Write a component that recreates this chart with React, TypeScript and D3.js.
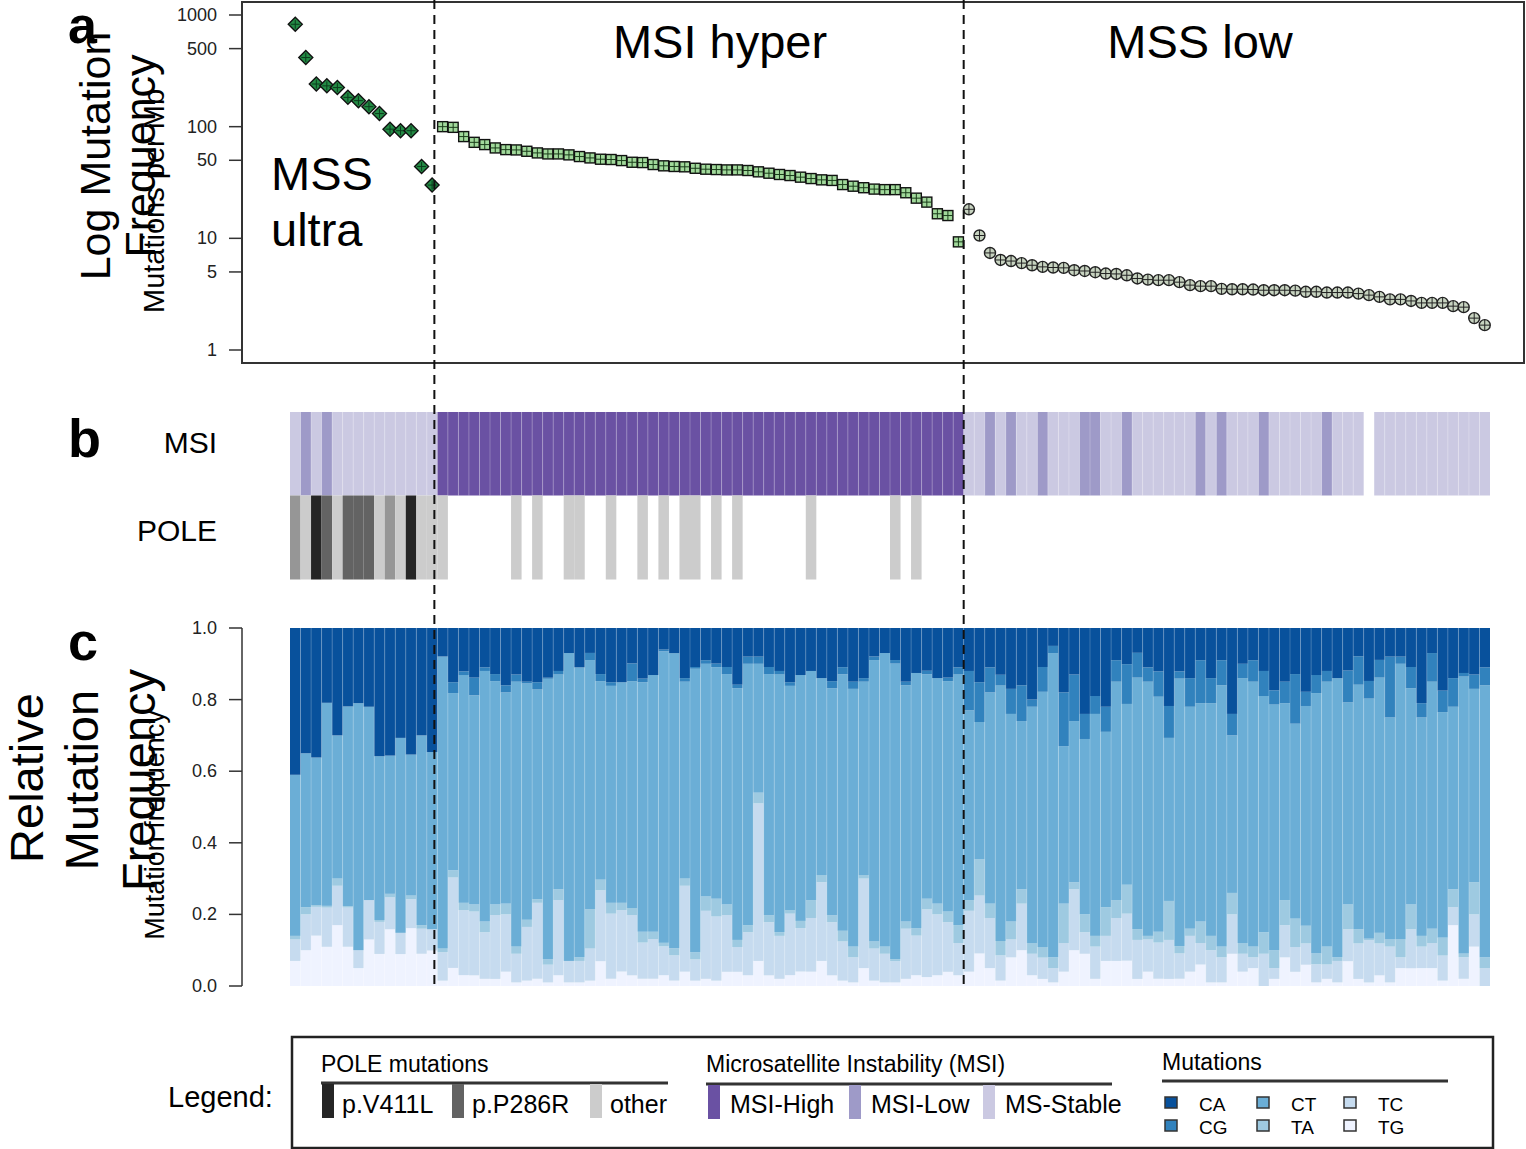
import React from "react";
import * as d3 from "d3";

// panel a: mutations per Mb, sorted within each group
const ultraFreq = [826, 416, 241, 232, 224, 183, 171, 151, 131, 95, 92, 92, 44, 30];
const hyperFreq = [
  100, 98.6, 81.5, 72.4, 69.1, 64.5, 62.3, 61.9, 60.2, 58.2, 57.0, 57.0, 55.9, 54.0, 52.5, 51.1, 50.8,
  49.7, 48.0, 47.7, 45.8, 44.6, 44.0, 43.7, 42.4, 41.6, 41.3, 41.0, 41.0, 40.5, 39.4, 38.3, 37.3, 36.5,
  35.3, 34.3, 33.4, 33.0, 30.3, 29.3, 28.4, 27.6, 27.3, 27.3, 25.6, 22.9, 21.1, 16.6, 16.0, 9.3,
];
const lowFreq = [
  18.2, 10.6, 7.4, 6.4, 6.26, 6.0, 5.74, 5.55, 5.48, 5.44, 5.18, 5.1, 4.97, 4.84, 4.8, 4.67, 4.37,
  4.27, 4.22, 4.22, 4.05, 3.81, 3.73, 3.73, 3.53, 3.5, 3.5, 3.48, 3.43, 3.43, 3.43, 3.4, 3.32, 3.32,
  3.27, 3.27, 3.27, 3.2, 3.1, 2.99, 2.84, 2.84, 2.75, 2.64, 2.64, 2.64, 2.47, 2.42, 1.93, 1.67,
];
const yTicks = [1, 5, 10, 50, 100, 500, 1000];

// panel b: H = MSI-High, L = MSI-Low, S = MS-Stable, N = missing
const msiStatus = (
  "SLSLSSSSSSSSSS" +
  "HHHHHHHHHHHHHHHHHHHHHHHHHHHHHHHHHHHHHHHHHHHHHHHHHH" +
  "SSLSLSSLSSSLLSSLSSSSSSLSLSSSLSSSSSLSSSNSSSSSSSSSSS"
).split("");
// V = p.V411L, P = p.P286R, o = other, m = mixed grey, - = none
const poleStatus = (
  "moVPoPPPomoVoo" +
  "o------o-o--oo--o--o-o-oo-o-o------o-------o-o----" +
  "--------------------------------------------------"
).split("");

// panel c: relative mutation frequency (%)
const CA = [
  41, 35, 36, 21, 30, 22, 21, 22, 36, 36, 31, 35, 30, 35,
  8, 15, 12, 14, 11, 13, 16, 13, 15, 15, 14, 12, 7, 11, 7, 13, 15, 15, 10, 14, 13, 6, 7, 14, 11, 9, 10,
  11, 16, 8, 8, 11, 12, 15, 13, 12, 14, 15, 11, 15, 14, 8, 7, 9, 15, 12.5, 12, 14, 14, 11,
  12, 15, 11, 13, 17, 16, 20, 11, 5, 18, 13, 24, 19, 22, 9, 10, 7, 11, 12, 22, 12, 14, 9, 14, 9, 24,
  10, 9, 12, 17.5, 15, 13, 18, 13, 12, 14, 12, 8, 15, 9, 8, 8, 11, 21, 7, 17.5, 14, 12.5, 13, 11,
];
const CG = [
  0, 0, 0, 0, 0, 0, 0, 0, 0, 0, 0, 0, 0, 0,
  0, 3, 1, 5, 1, 2, 2, 2, 0.5, 2, 0.3, 1, 0, 0, 2, 2, 1, 0, 5, 1, 0, 0.5, 0, 1, 0.5, 1, 1, 2, 1, 2, 2,
  2, 1, 1, 0, 0, 0, 2, 2, 2, 1, 1, 0, 1, 1, 0, 1, 0, 1, 2,
  11, 11, 7, 3, 7, 10, 2, 7, 2, 15, 13, 7, 5, 7, 6, 11, 7, 4, 7, 9, 2, 8, 12, 7, 7, 6, 4, 6, 7, 4, 6,
  14, 4, 5, 3, 0, 9, 8, 5, 5, 17, 2, 6, 4, 8, 6, 8, 1, 4, 5,
];
const CT = [
  45, 43, 41, 57, 40, 56, 69, 54, 46, 39, 55, 39, 53, 50,
  82, 49, 63, 59, 70, 63, 59, 74, 66, 58, 79, 60, 86, 81, 70, 56, 60, 61, 64, 69, 71, 81, 82, 55, 80,
  65, 65, 65, 71, 73, 36, 68, 72, 62, 68, 64, 55, 64, 72, 72, 54, 79, 82, 83, 66, 71, 63, 63, 65, 70,
  53, 38, 59, 71, 58, 47, 66, 72, 85, 44, 45, 49, 62, 49, 61, 50, 71, 71, 65, 46, 74, 62, 61, 65, 73,
  44, 74, 74, 66, 69, 55, 55, 62, 72, 74, 78, 57, 69, 68, 72, 62, 77, 61, 61, 69, 63, 51, 77, 54, 76,
];
const TA = [
  1, 2, 0.5, 0.5, 2, 0.4, 0, 0, 0.5, 1, 0, 1, 1, 0,
  1, 2, 2, 2, 3, 3, 3, 2, 2, 1, 1.5, 3, 0, 1, 11, 3, 3, 2, 2, 3, 2, 1, 2, 2, 2, 4, 5, 3, 2, 2, 3, 2, 1,
  1, 2, 5, 2, 2, 3, 3, 1, 2, 2, 0.5, 2, 2, 3, 3, 3, 5,
  3, 10, 4, 4, 5, 4, 3, 3, 3, 11, 2, 5, 3, 8, 5, 8, 3, 1, 3, 11, 2, 2, 6, 4, 3, 6, 3, 3, 6, 5, 7, 8, 5,
  3, 5, 1, 7, 4, 0.4, 3, 2, 5, 7, 3, 4, 5, 5, 1, 9, 3,
];
const TC = [
  6, 10, 8, 11, 11, 11, 5, 11, 9, 9, 6, 8, 7, 6,
  8, 25, 18, 18, 13, 18, 16, 8, 15, 21, 5, 21, 6, 6, 9, 20, 18, 17, 17, 10, 11, 8, 7, 24, 6, 19, 18,
  16, 7, 12, 44, 15, 12, 17, 12, 15, 22, 15, 11, 7, 25, 9, 8, 6, 14, 11, 19, 17, 14, 9,
  17, 16, 14, 7, 5, 13, 6, 6, 4, 8, 17, 6, 9, 7, 12, 13, 11, 9, 10, 11, 7, 10, 6, 9, 7, 11, 5, 3, 9,
  3, 9, 7, 6, 5, 4, 6, 9, 10, 12, 9, 10, 3, 11, 6, 7, 7, 5, 6, 9, 5,
];
const TG = [
  7, 10, 14, 11, 17, 11, 5, 13, 9, 16, 9, 16, 9, 10,
  1.5, 5, 3, 3, 2, 2, 4, 1, 1.5, 2, 1, 3, 1, 1, 1.5, 7, 2, 4, 3, 2, 2, 3, 1.5, 4, 1.5, 2, 1.5, 4, 4,
  3, 7, 3, 2, 3, 4, 4, 7, 3, 1.5, 1, 5, 1.5, 1, 1, 2, 3, 2.5, 3, 4, 3,
  4, 9, 5, 1.5, 8, 10, 3, 2, 1, 4, 10, 9, 2, 7, 7, 7, 2, 4, 2, 2, 2, 4, 6, 1, 1, 9, 4, 5, 0, 2, 8, 4,
  6, 1, 2, 1, 7, 2, 1, 3, 1, 5, 5, 5, 5, 1.5, 17, 2, 11, 0,
];
const relTicks = [0, 0.2, 0.4, 0.6, 0.8, 1.0];

const mutKeys = ["CA", "CG", "CT", "TA", "TC", "TG"];
const mutValues: Record<string, number[]> = { CA, CG, CT, TA, TC, TG };
const mutColors: Record<string, string> = {
  CA: "#08519c", CG: "#3182bd", CT: "#6baed6", TA: "#9ecae1", TC: "#c6dbef", TG: "#eff3ff",
};
const msiColors: Record<string, string> = { H: "#6a51a3", L: "#9e9ac8", S: "#cbc9e2" };
const poleColors: Record<string, string> = { V: "#252525", P: "#636363", o: "#cccccc", m: "#969696" };

const poleLegend = [
  { key: "V", label: "p.V411L" },
  { key: "P", label: "p.P286R" },
  { key: "o", label: "other" },
];
const msiLegend = [
  { key: "H", label: "MSI-High" },
  { key: "L", label: "MSI-Low" },
  { key: "S", label: "MS-Stable" },
];

const FONT = "'Liberation Sans', Arial, Helvetica, sans-serif";

const freq = [...ultraFreq, ...hyperFreq, ...lowFreq];
const group = freq.map((_, i) =>
  i < ultraFreq.length ? "ultra" : i < ultraFreq.length + hyperFreq.length ? "hyper" : "low"
);
const N = freq.length;

const x = d3.scaleBand<number>().domain(d3.range(N)).range([290, 1490]);
const bw = x.bandwidth();
const yLog = d3.scaleLog().domain([1, 1000]).range([350, 15]);
const yRel = d3.scaleLinear().domain([0, 1]).range([986, 628]);

const rows = d3.range(N).map((i) => {
  const r: Record<string, number> = {};
  mutKeys.forEach((k) => (r[k] = mutValues[k][i]));
  return r;
});
const stacked = d3
  .stack<Record<string, number>>()
  .keys([...mutKeys].reverse())
  .offset(d3.stackOffsetExpand)(rows);

const cuts = [ultraFreq.length, ultraFreq.length + hyperFreq.length];
const cutNudge = [-3, 0];

function Marker({ g, cx, cy }: { g: string; cx: number; cy: number }) {
  if (g === "ultra") {
    const r = 7;
    return (
      <g transform={`translate(${cx},${cy})`}>
        <path d={`M0,${-r}L${r},0L0,${r}L${-r},0Z`} fill="#238b45" stroke="#111" strokeWidth={1.4} />
        <path d="M-4.5,0H4.5M0,-4.5V4.5" stroke="#0b3d1c" strokeWidth={1} />
      </g>
    );
  }
  if (g === "hyper") {
    const r = 5;
    return (
      <g transform={`translate(${cx},${cy})`}>
        <rect x={-r} y={-r} width={2 * r} height={2 * r} fill="#a1d99b" stroke="#111" strokeWidth={1.4} />
        <path d={`M${-r},0H${r}M0,${-r}V${r}`} stroke="#1a3d1a" strokeWidth={1} />
      </g>
    );
  }
  const r = 5.5;
  return (
    <g transform={`translate(${cx},${cy})`}>
      <circle r={r} fill="#c7d3c0" stroke="#222" strokeWidth={1.4} />
      <path d={`M${-r},0H${r}M0,${-r}V${r}`} stroke="#222" strokeWidth={1} />
    </g>
  );
}

export default function App() {
  const fmt = d3.format(".1f");
  return (
    <div style={{ position: "absolute", left: 0, top: 0 }}>
      <svg width={1526} height={1149} style={{ display: "block", fontFamily: FONT }}>
        <rect width={1526} height={1149} fill="#fff" />

        {/* panel a */}
        <rect x={242} y={2} width={1282} height={361} fill="none" stroke="#333" strokeWidth={2} />
        {yTicks.map((t) => (
          <g key={t}>
            <line x1={229} x2={242} y1={yLog(t)} y2={yLog(t)} stroke="#333" strokeWidth={1.5} />
            <text x={217} y={yLog(t) + 6} fontSize={18} textAnchor="end" fill="#222">
              {t}
            </text>
          </g>
        ))}
        {freq.map((v, i) => (
          <Marker key={i} g={group[i]} cx={x(i)! + bw / 2} cy={yLog(v)} />
        ))}
        <text x={720} y={58} fontSize={47} textAnchor="middle">MSI hyper</text>
        <text x={1200} y={58} fontSize={47} textAnchor="middle">MSS low</text>
        <text x={271} y={190} fontSize={47}>MSS</text>
        <text x={271} y={246} fontSize={47}>ultra</text>
        <text transform="translate(110,156) rotate(-90)" fontSize={43} textAnchor="middle">Log Mutation</text>
        <text transform="translate(155,156) rotate(-90)" fontSize={43} textAnchor="middle">Frequency</text>
        <text transform="translate(164,201) rotate(-90)" fontSize={29} textAnchor="middle">Mutations per Mb</text>
        <text x={68} y={43} fontSize={52} fontWeight="bold">a</text>

        {/* panel b */}
        {msiStatus.map((s, i) =>
          msiColors[s] ? (
            <rect key={"m" + i} x={x(i)} y={412} width={bw} height={83.5} fill={msiColors[s]} />
          ) : null
        )}
        {poleStatus.map((s, i) =>
          poleColors[s] ? (
            <rect key={"p" + i} x={x(i)} y={495.5} width={bw} height={84} fill={poleColors[s]} />
          ) : null
        )}
        {d3.range(1, N).map((i) =>
          msiColors[msiStatus[i]] && msiColors[msiStatus[i - 1]] ? (
            <line key={"ms" + i} x1={x(i)} x2={x(i)} y1={412} y2={495.5} stroke="#fff" strokeOpacity={0.3} strokeWidth={0.8} />
          ) : null
        )}
        <text x={217} y={453} fontSize={30} textAnchor="end">MSI</text>
        <text x={217} y={541} fontSize={30} textAnchor="end">POLE</text>
        <text x={68} y={457} fontSize={54} fontWeight="bold">b</text>

        {/* panel c */}
        {stacked.map((s) => (
          <g key={s.key} fill={mutColors[s.key]}>
            {s.map((d, i) => (
              <rect key={i} x={x(i)} y={yRel(d[1])} width={bw} height={yRel(d[0]) - yRel(d[1])} />
            ))}
          </g>
        ))}
        {d3.range(1, N).map((i) => (
          <line key={"cs" + i} x1={x(i)} x2={x(i)} y1={628} y2={986} stroke="#fff" strokeOpacity={0.25} strokeWidth={0.8} />
        ))}
        <line x1={242} x2={242} y1={yRel(0)} y2={yRel(1)} stroke="#333" strokeWidth={1.5} />
        {relTicks.map((t) => (
          <g key={t}>
            <line x1={229} x2={242} y1={yRel(t)} y2={yRel(t)} stroke="#333" strokeWidth={1.5} />
            <text x={217} y={yRel(t) + 6} fontSize={18} textAnchor="end" fill="#222">
              {fmt(t)}
            </text>
          </g>
        ))}
        <text transform="translate(43,778) rotate(-90)" fontSize={47} textAnchor="middle">Relative</text>
        <text transform="translate(98,780) rotate(-90)" fontSize={47} textAnchor="middle">Mutation</text>
        <text transform="translate(155,780) rotate(-90)" fontSize={47} textAnchor="middle">Frequency</text>
        <text transform="translate(164,825) rotate(-90)" fontSize={27} textAnchor="middle">Mutation frequency</text>
        <text x={68} y={660} fontSize={54} fontWeight="bold">c</text>

        {/* group separators */}
        {cuts.map((c, k) => (
          <line key={c} x1={x(c)! + cutNudge[k]} x2={x(c)! + cutNudge[k]} y1={0} y2={986} stroke="#111" strokeWidth={2} strokeDasharray="9 6" />
        ))}

        {/* legend */}
        <text x={168} y={1107} fontSize={29}>Legend:</text>
        <rect x={292} y={1037} width={1201} height={111} fill="none" stroke="#222" strokeWidth={2.5} />

        <text x={321} y={1072} fontSize={23}>POLE mutations</text>
        <line x1={321} x2={668} y1={1083} y2={1083} stroke="#333" strokeWidth={3} />
        {poleLegend.map((p, k) => {
          const lx = [322, 452, 590][k];
          return (
            <g key={p.key}>
              <rect x={lx} y={1084} width={12} height={34} fill={poleColors[p.key]} />
              <text x={lx + 20} y={1113} fontSize={25}>{p.label}</text>
            </g>
          );
        })}

        <text x={706} y={1072} fontSize={23}>Microsatellite Instability (MSI)</text>
        <line x1={706} x2={1112} y1={1084} y2={1084} stroke="#333" strokeWidth={3} />
        {msiLegend.map((p, k) => {
          const lx = [708, 849, 983][k];
          return (
            <g key={p.key}>
              <rect x={lx} y={1085} width={12} height={34} fill={msiColors[p.key]} />
              <text x={lx + 22} y={1113} fontSize={25}>{p.label}</text>
            </g>
          );
        })}

        <text x={1162} y={1070} fontSize={23}>Mutations</text>
        <line x1={1162} x2={1448} y1={1081} y2={1081} stroke="#333" strokeWidth={3} />
        {mutKeys.map((k, j) => {
          const col = Math.floor(j / 2);
          const row = j % 2;
          const lx = [1165, 1257, 1344][col];
          const ly = [1097, 1120][row];
          return (
            <g key={k}>
              <rect x={lx} y={ly} width={12} height={11} fill={mutColors[k]} stroke="#333" strokeWidth={1.5} />
              <text x={lx + 34} y={ly + 14} fontSize={19}>{k}</text>
            </g>
          );
        })}
      </svg>
    </div>
  );
}
